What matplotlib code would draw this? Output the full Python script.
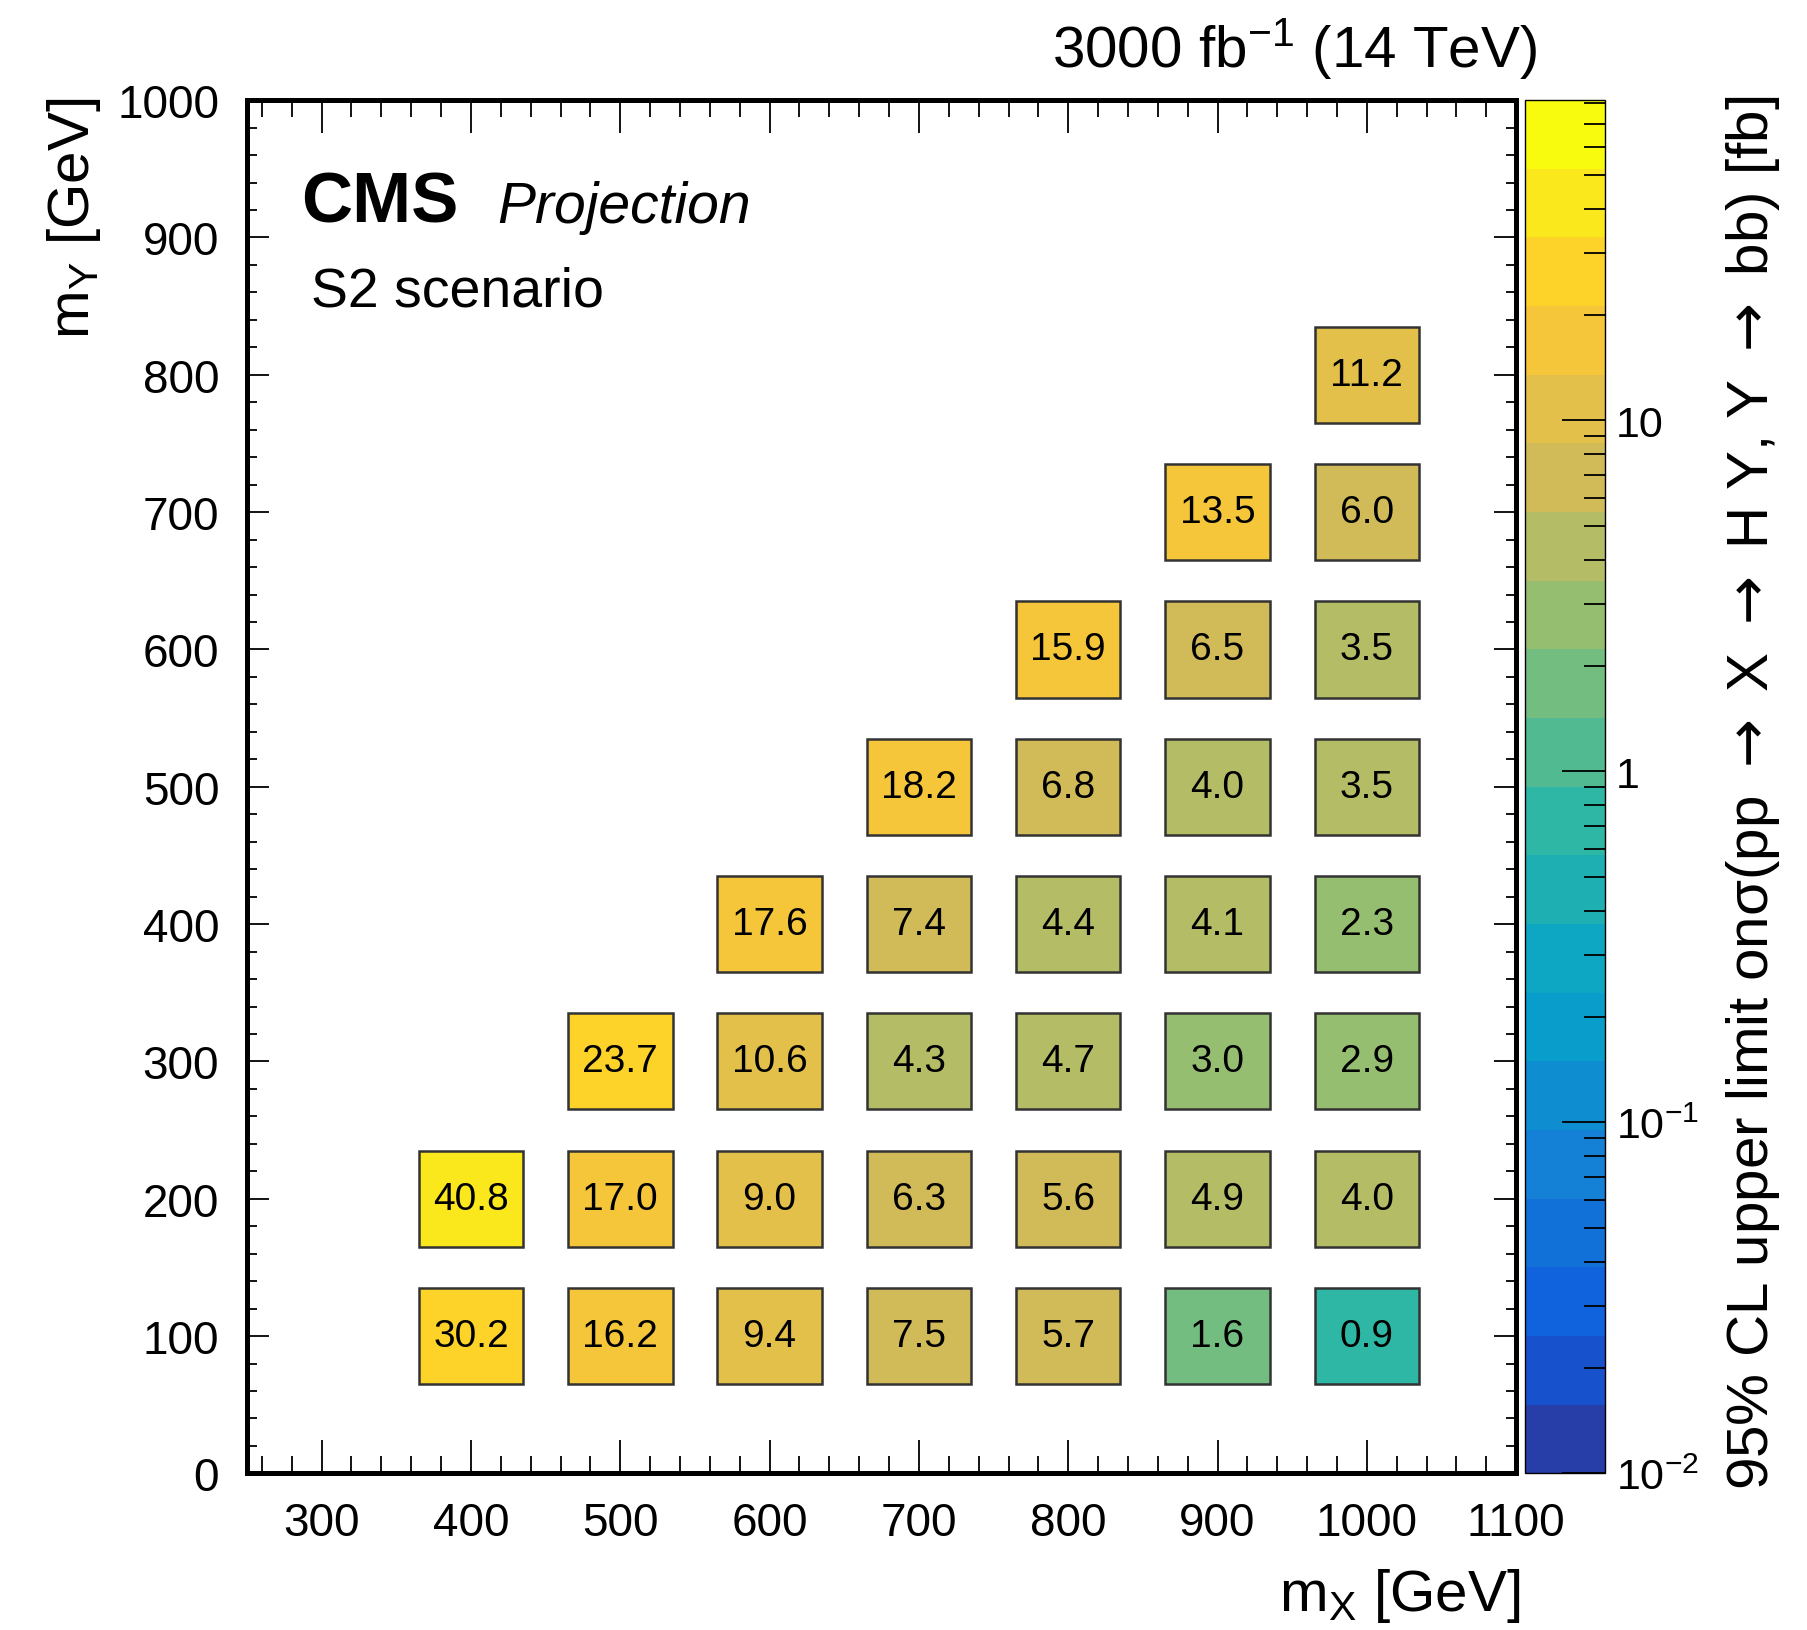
import numpy as np
import matplotlib

matplotlib.use("Agg")

import matplotlib.pyplot as plt  # noqa: E402
from matplotlib.colors import ListedColormap, LogNorm  # noqa: E402
from matplotlib.patches import Rectangle  # noqa: E402
from matplotlib.ticker import FixedLocator, MultipleLocator, LogLocator, FuncFormatter, NullFormatter  # noqa: E402

plt.rcParams["font.family"] = ["Liberation Sans", "DejaVu Sans"]
plt.rcParams["mathtext.default"] = "regular"

# grid points (m_X, m_Y) and expected limits [fb]
mx = [400, 400,
      500, 500, 500,
      600, 600, 600, 600,
      700, 700, 700, 700, 700,
      800, 800, 800, 800, 800, 800,
      900, 900, 900, 900, 900, 900, 900,
      1000, 1000, 1000, 1000, 1000, 1000, 1000, 1000]
my = [100, 200,
      100, 200, 300,
      100, 200, 300, 400,
      100, 200, 300, 400, 500,
      100, 200, 300, 400, 500, 600,
      100, 200, 300, 400, 500, 600, 700,
      100, 200, 300, 400, 500, 600, 700, 800]
limit = [30.2, 40.8,
         16.2, 17.0, 23.7,
         9.4, 9.0, 10.6, 17.6,
         7.5, 6.3, 4.3, 7.4, 18.2,
         5.7, 5.6, 4.7, 4.4, 6.8, 15.9,
         1.6, 4.9, 3.0, 4.1, 4.0, 6.5, 13.5,
         0.9, 4.0, 2.9, 2.3, 3.5, 3.5, 6.0, 11.2]

z_min, z_max = 0.01, 81.6
n_contours = 20
box = 70  # GeV

# ROOT kBird palette, 255 colours, sampled the way COLZ does for 20 contours
stops = [0.0, 0.125, 0.25, 0.375, 0.5, 0.625, 0.75, 0.875, 1.0]
red = [0.2082, 0.0592, 0.0780, 0.0232, 0.1802, 0.5301, 0.8186, 0.9956, 0.9764]
green = [0.1664, 0.3599, 0.5041, 0.6419, 0.7178, 0.7492, 0.7328, 0.7862, 0.9832]
blue = [0.5293, 0.8684, 0.8385, 0.7914, 0.6425, 0.4662, 0.3499, 0.1968, 0.0539]
pos = np.linspace(0, 1, 255)
palette = np.column_stack([np.interp(pos, stops, c) for c in (red, green, blue)])
band_idx = [int((i + 0.99) * 255 / n_contours) for i in range(n_contours)]
cmap = ListedColormap(palette[np.minimum(band_idx, 254)])
norm = LogNorm(vmin=z_min, vmax=z_max)

fig = plt.figure(figsize=(18.08, 16.31), dpi=100)
ax = fig.add_axes([0.1366, 0.096, 0.702, 0.842])
cax = fig.add_axes([0.8432, 0.096, 0.0443, 0.842])

for x, y, v in zip(mx, my, limit):
    ax.add_patch(Rectangle((x - box / 2, y - box / 2), box, box,
                           facecolor=cmap(norm(v)), edgecolor="#333333", lw=1.8))
    ax.text(x, y, f"{v:.1f}", ha="center", va="center", fontsize=28)

ax.set_xlim(250, 1100)
ax.set_ylim(0, 1000)
ax.xaxis.set_major_locator(MultipleLocator(100))
ax.xaxis.set_minor_locator(MultipleLocator(20))
ax.yaxis.set_major_locator(MultipleLocator(100))
ax.yaxis.set_minor_locator(MultipleLocator(20))
ax.tick_params(which="both", direction="in", top=True, right=True, width=1.3, labelsize=33)
ax.tick_params(axis="x", which="major", length=24, pad=20)
ax.tick_params(axis="x", which="minor", length=12)
ax.tick_params(axis="y", which="major", length=16, pad=20)
ax.tick_params(axis="y", which="minor", length=7)
for s in ax.spines.values():
    s.set_linewidth(3.6)

fig.text(0.8407, 0.012, "m$_{X}$ [GeV]", ha="right", va="baseline", fontsize=42)
fig.text(0.049, 0.940, "m$_{Y}$ [GeV]", ha="right", va="baseline", rotation=90,
         rotation_mode="anchor", fontsize=42)
fig.text(0.850, 0.959, "3000 fb$^{-1}$ (14 TeV)", ha="right", va="baseline", fontsize=42)
fig.text(0.1665, 0.8633, "CMS", ha="left", va="baseline", fontsize=51, fontweight="bold")
fig.text(0.275, 0.8633, "Projection", ha="left", va="baseline", fontsize=41, fontstyle="italic")
fig.text(0.172, 0.812, "S2 scenario", ha="left", va="baseline", fontsize=40)

sm = plt.cm.ScalarMappable(norm=norm, cmap=cmap)
cb = fig.colorbar(sm, cax=cax)
cb.outline.set_linewidth(1.0)
cax.yaxis.set_major_locator(FixedLocator([0.01, 0.1, 1, 10]))
cax.yaxis.set_minor_locator(LogLocator(base=10, subs=np.arange(2, 10)))
cax.yaxis.set_minor_formatter(NullFormatter())
cb_labels = {0.01: "10$^{-2}$", 0.1: "10$^{-1}$", 1: "1", 10: "10"}
cax.yaxis.set_major_formatter(FuncFormatter(lambda v, _p: cb_labels.get(round(v, 2), "")))
cax.tick_params(which="both", direction="in", right=True, left=False, width=1.3, colors="black")
cax.tick_params(which="major", length=31, pad=8, labelsize=31)
cax.tick_params(which="minor", length=15)
arrow = r"$\mathrm{\rightarrow}$"
fig.text(0.978, 0.941,
         f"95% CL upper limit on$\\sigma$(pp {arrow} X {arrow} H Y, Y {arrow} bb) [fb]",
         ha="right", va="baseline", rotation=90, rotation_mode="anchor", fontsize=42)

fig.savefig("out.png", dpi=100)
